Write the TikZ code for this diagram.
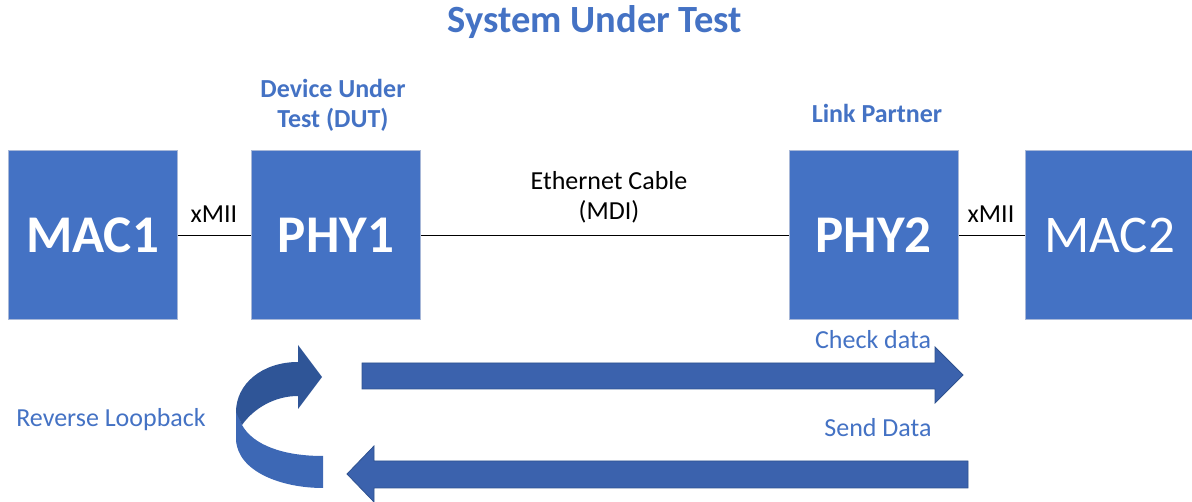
\documentclass[tikz,border=0pt]{standalone}
\usepackage{fontspec}
\setmainfont{Carlito}
\definecolor{boxblue}{HTML}{4472C4}
\definecolor{boxedge}{HTML}{A8B8D8}
\definecolor{txtblue}{HTML}{4472C4}
\definecolor{arrfill}{HTML}{3B62AD}
\definecolor{arredge}{HTML}{2F528F}
\definecolor{curvedark}{HTML}{2F5597}
\definecolor{curvelight}{HTML}{3D68B5}
\begin{document}
\begin{tikzpicture}[x=1pt,y=-1pt,
  blockbox/.style={draw=boxedge,line width=1pt,fill=boxblue,minimum width=169pt,minimum height=169pt,
     inner sep=0pt,text=white,text height=34pt,text depth=0pt},
  bigbold/.style={font=\fontsize{53}{60}\selectfont\bfseries},
  bigreg/.style={font=\fontsize{53}{60}\selectfont},
  smalltxt/.style={font=\fontsize{26}{30}\selectfont,inner sep=0pt},
  bluebold/.style={font=\fontsize{26}{30}\selectfont\bfseries,text=txtblue,inner sep=0pt,align=center},
  bluereg/.style={font=\fontsize{26}{30}\selectfont,text=txtblue,inner sep=0pt},
  wire/.style={line width=1.8pt,black},
  blockarrow/.style={fill=arrfill,draw=arredge,line width=0.8pt}]
\useasboundingbox (0,0) rectangle (1192,502);

% title
\node[anchor=base,font=\fontsize{38.5}{44}\selectfont\bfseries,text=txtblue,inner sep=0pt] (title) at (595,33) {System Under Test};

% boxes
\node[blockbox,bigbold] (mac1) at (92.5,235.5) {MAC1};
\node[blockbox,bigbold] (phy1) at (336,235.5) {PHY1};
\node[blockbox,bigbold] (phy2) at (873.5,235.5) {PHY2};
\node[blockbox,bigreg] (mac2) at (1109.5,235.5) {MAC2};

% wires
\draw[wire] (mac1.east) -- (phy1.west);
\draw[wire] (phy1.east) -- (phy2.west);
\draw[wire] (phy2.east) -- (mac2.west);

% labels
\node[smalltxt,anchor=base] (xmii1) at (214,223) {xMII};
\node[smalltxt,anchor=base] (xmii2) at (991,223) {xMII};
\node[smalltxt,align=center] (cable) at (609,197) {Ethernet Cable\\(MDI)};
\node[bluebold] (dut) at (333,105) {Device Under\\Test (DUT)};
\node[bluebold,anchor=base] (lp) at (877,123) {Link Partner};
\node[bluereg,anchor=base] (check) at (873,349) {Check data};
\node[bluereg,anchor=base] (send) at (878,437) {Send Data};
\node[bluereg,anchor=base] (rev) at (111,427) {Reverse Loopback};

% block arrows
\draw[blockarrow] (362,363) -- (935,363) -- (935,347) -- (963,375) -- (935,403) -- (935,389) -- (362,389) -- cycle;
\draw[blockarrow] (968,461) -- (374,461) -- (374,446) -- (347,474) -- (374,502) -- (374,488) -- (968,488) -- cycle;

% curved loopback arrow
\fill[curvelight] (236,410) -- (236,440) .. controls (238,472) and (282,488) .. (323,488)
   -- (323,456) .. controls (283,456) and (253,445) .. (242,425) -- cycle;
\fill[curvedark] (298,362) .. controls (262,362) and (236,384) .. (236,412)
   -- (242,425) .. controls (254,408) and (275,396) .. (298,396)
   -- (298,409) -- (322,377) -- (298,345) -- cycle;
\end{tikzpicture}
\end{document}
